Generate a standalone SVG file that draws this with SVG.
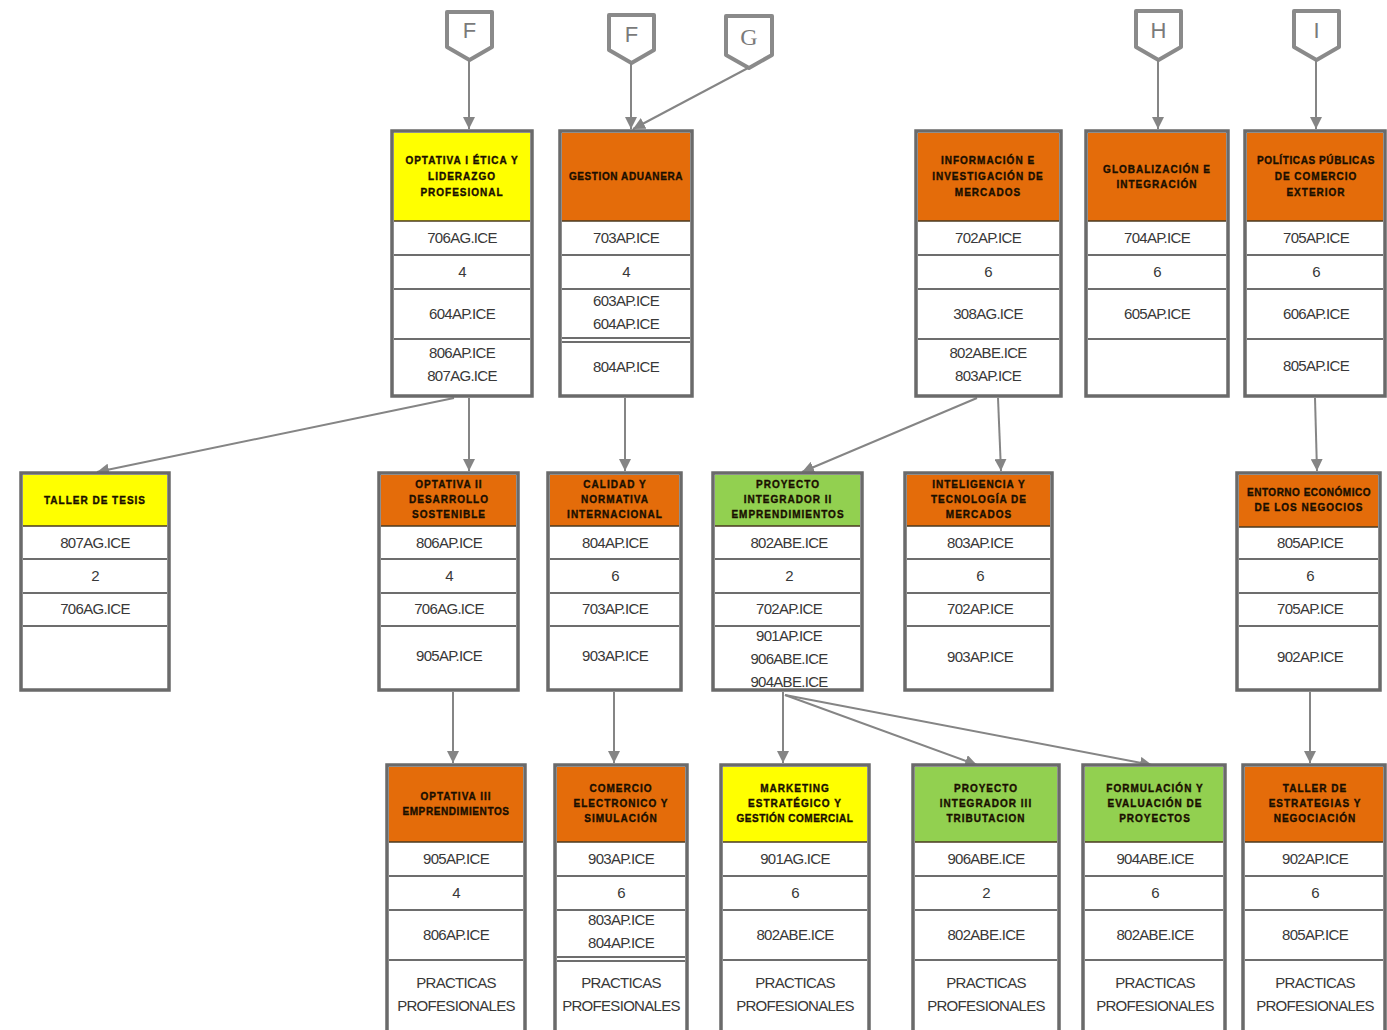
<svg xmlns="http://www.w3.org/2000/svg" width="1387" height="1030" viewBox="0 0 1387 1030">
<style>
.bg{fill:#ffffff}
.box{fill:#ffffff;stroke:#6a6a6a;stroke-width:3.5}
.row{stroke:#3c3c3c;stroke-width:1.5}
.hy{fill:#ffff00}
.ho{fill:#e46c0a}
.hg{fill:#92d050}
.hl{stroke:#4a3a20;stroke-width:1.5}
.ht{font-family:"Liberation Sans",Arial,sans-serif;font-weight:bold;font-size:10px;letter-spacing:1px;fill:#1a0f00;stroke:#1a0f00;stroke-width:0.35;text-anchor:middle}
.t{font-family:"Liberation Sans",Arial,sans-serif;font-size:15px;letter-spacing:-0.7px;fill:#383838;text-anchor:middle}
.off{fill:#ffffff;stroke:#8a8a8a;stroke-width:4;stroke-linejoin:round}
.offt{font-family:"Liberation Sans",Arial,sans-serif;font-size:22px;fill:#7a7a7a;text-anchor:middle}
.offs{font-family:"Liberation Serif","Times New Roman",serif;font-size:24px;fill:#7a7a7a;text-anchor:middle}
.c{fill:none;stroke:#858585;stroke-width:2;marker-end:url(#ah)}
</style>
<defs>
<marker id="ah" viewBox="0 0 10 10" refX="10" refY="5" markerWidth="12" markerHeight="12" markerUnits="userSpaceOnUse" orient="auto">
<path d="M0,0 L10,5 L0,10 Z" fill="#858585"/>
</marker>
</defs>
<rect class="bg" x="0" y="0" width="1387" height="1030"/>

<!-- off-page connectors -->
<g id="off-F1"><path class="off" d="M447,12 H492 V47 L469.5,60 L447,47 Z"/><text class="offt" x="469.5" y="38">F</text></g>
<g id="off-F2"><path class="off" d="M609,15 H654 V50 L631.5,63 L609,50 Z"/><text class="offt" x="631.5" y="42">F</text></g>
<g id="off-G"><path class="off" d="M726,16 H772 V55 L749,68 L726,55 Z"/><text class="offs" x="749" y="45">G</text></g>
<g id="off-H"><path class="off" d="M1136,11 H1181 V47 L1158.5,60 L1136,47 Z"/><text class="offt" x="1158.5" y="38">H</text></g>
<g id="off-I"><path class="off" d="M1294,11 H1339 V47 L1316.5,60 L1294,47 Z"/><text class="offt" x="1316.5" y="38">I</text></g>

<!-- connectors -->
<g id="connectors">
<line class="c" x1="469" y1="60" x2="469" y2="129"/>
<line class="c" x1="631" y1="63" x2="631" y2="129"/>
<line class="c" x1="748" y1="68" x2="633" y2="129"/>
<line class="c" x1="1158" y1="60" x2="1158" y2="129"/>
<line class="c" x1="1316" y1="60" x2="1316" y2="129"/>
<line class="c" x1="454" y1="398" x2="97" y2="472"/>
<line class="c" x1="469" y1="398" x2="469" y2="471"/>
<line class="c" x1="625" y1="398" x2="625" y2="471"/>
<line class="c" x1="977" y1="398" x2="802" y2="472"/>
<line class="c" x1="998" y1="398" x2="1001" y2="471"/>
<line class="c" x1="1315" y1="398" x2="1317" y2="471"/>
<line class="c" x1="453" y1="692" x2="453" y2="763"/>
<line class="c" x1="614" y1="692" x2="614" y2="763"/>
<line class="c" x1="783" y1="692" x2="783" y2="763"/>
<line class="c" x1="785" y1="695" x2="977" y2="765"/>
<line class="c" x1="785" y1="695" x2="1152" y2="765"/>
<line class="c" x1="1310" y1="692" x2="1310" y2="763"/>
</g>

<!-- ROW 1 -->
<g id="optativa-i">
<rect class="box" x="392" y="131" width="140" height="265"/>
<rect class="hy" x="394" y="133" width="136" height="88"/>
<line class="hl" x1="394" y1="221" x2="530" y2="221"/>
<line class="row" x1="394" y1="255" x2="530" y2="255"/>
<line class="row" x1="394" y1="289" x2="530" y2="289"/>
<line class="row" x1="394" y1="339" x2="530" y2="339"/>
<text class="ht" x="462" y="164">OPTATIVA I ÉTICA Y</text>
<text class="ht" x="462" y="180">LIDERAZGO</text>
<text class="ht" x="462" y="196">PROFESIONAL</text>
<text class="t" x="462" y="243">706AG.ICE</text>
<text class="t" x="462" y="277">4</text>
<text class="t" x="462" y="319">604AP.ICE</text>
<text class="t" x="462" y="358">806AP.ICE</text>
<text class="t" x="462" y="381">807AG.ICE</text>
</g>

<g id="gestion-aduanera">
<rect class="box" x="560" y="131" width="132" height="265"/>
<rect class="ho" x="562" y="133" width="128" height="88"/>
<line class="hl" x1="562" y1="221" x2="690" y2="221"/>
<line class="row" x1="562" y1="255" x2="690" y2="255"/>
<line class="row" x1="562" y1="289" x2="690" y2="289"/>
<line class="row" x1="562" y1="338" x2="690" y2="338"/>
<line class="row" x1="562" y1="342" x2="690" y2="342"/>
<text class="ht" x="626" y="180" style="letter-spacing:0.6px">GESTION ADUANERA</text>
<text class="t" x="626" y="243">703AP.ICE</text>
<text class="t" x="626" y="277">4</text>
<text class="t" x="626" y="306">603AP.ICE</text>
<text class="t" x="626" y="329">604AP.ICE</text>
<text class="t" x="626" y="372">804AP.ICE</text>
</g>

<g id="informacion-investigacion">
<rect class="box" x="916" y="131" width="145" height="265"/>
<rect class="ho" x="918" y="133" width="141" height="88"/>
<line class="hl" x1="918" y1="221" x2="1059" y2="221"/>
<line class="row" x1="918" y1="255" x2="1059" y2="255"/>
<line class="row" x1="918" y1="289" x2="1059" y2="289"/>
<line class="row" x1="918" y1="339" x2="1059" y2="339"/>
<text class="ht" x="988" y="164">INFORMACIÓN E</text>
<text class="ht" x="988" y="180">INVESTIGACIÓN DE</text>
<text class="ht" x="988" y="196">MERCADOS</text>
<text class="t" x="988" y="243">702AP.ICE</text>
<text class="t" x="988" y="277">6</text>
<text class="t" x="988" y="319">308AG.ICE</text>
<text class="t" x="988" y="358">802ABE.ICE</text>
<text class="t" x="988" y="381">803AP.ICE</text>
</g>

<g id="globalizacion">
<rect class="box" x="1086" y="131" width="142" height="265"/>
<rect class="ho" x="1088" y="133" width="138" height="88"/>
<line class="hl" x1="1088" y1="221" x2="1226" y2="221"/>
<line class="row" x1="1088" y1="255" x2="1226" y2="255"/>
<line class="row" x1="1088" y1="289" x2="1226" y2="289"/>
<line class="row" x1="1088" y1="339" x2="1226" y2="339"/>
<text class="ht" x="1157" y="173">GLOBALIZACIÓN E</text>
<text class="ht" x="1157" y="188">INTEGRACIÓN</text>
<text class="t" x="1157" y="243">704AP.ICE</text>
<text class="t" x="1157" y="277">6</text>
<text class="t" x="1157" y="319">605AP.ICE</text>
</g>

<g id="politicas-publicas">
<rect class="box" x="1245" y="131" width="140" height="265"/>
<rect class="ho" x="1247" y="133" width="136" height="88"/>
<line class="hl" x1="1247" y1="221" x2="1383" y2="221"/>
<line class="row" x1="1247" y1="255" x2="1383" y2="255"/>
<line class="row" x1="1247" y1="289" x2="1383" y2="289"/>
<line class="row" x1="1247" y1="339" x2="1383" y2="339"/>
<text class="ht" x="1316" y="164" style="letter-spacing:0.6px">POLÍTICAS PÚBLICAS</text>
<text class="ht" x="1316" y="180">DE COMERCIO</text>
<text class="ht" x="1316" y="196">EXTERIOR</text>
<text class="t" x="1316" y="243">705AP.ICE</text>
<text class="t" x="1316" y="277">6</text>
<text class="t" x="1316" y="319">606AP.ICE</text>
<text class="t" x="1316" y="371">805AP.ICE</text>
</g>

<!-- ROW 2 -->
<g id="taller-tesis">
<rect class="box" x="21" y="473" width="148" height="217"/>
<rect class="hy" x="23" y="475" width="144" height="51"/>
<line class="hl" x1="23" y1="526" x2="167" y2="526"/>
<line class="row" x1="23" y1="559" x2="167" y2="559"/>
<line class="row" x1="23" y1="593" x2="167" y2="593"/>
<line class="row" x1="23" y1="626" x2="167" y2="626"/>
<text class="ht" x="95" y="504">TALLER DE TESIS</text>
<text class="t" x="95" y="548">807AG.ICE</text>
<text class="t" x="95" y="581">2</text>
<text class="t" x="95" y="614">706AG.ICE</text>
</g>

<g id="optativa-ii">
<rect class="box" x="379" y="473" width="139" height="217"/>
<rect class="ho" x="381" y="475" width="135" height="51"/>
<line class="hl" x1="381" y1="526" x2="516" y2="526"/>
<line class="row" x1="381" y1="559" x2="516" y2="559"/>
<line class="row" x1="381" y1="593" x2="516" y2="593"/>
<line class="row" x1="381" y1="626" x2="516" y2="626"/>
<text class="ht" x="449" y="488">OPTATIVA II</text>
<text class="ht" x="449" y="503">DESARROLLO</text>
<text class="ht" x="449" y="518">SOSTENIBLE</text>
<text class="t" x="449" y="548">806AP.ICE</text>
<text class="t" x="449" y="581">4</text>
<text class="t" x="449" y="614">706AG.ICE</text>
<text class="t" x="449" y="661">905AP.ICE</text>
</g>

<g id="calidad-normativa">
<rect class="box" x="548" y="473" width="133" height="217"/>
<rect class="ho" x="550" y="475" width="129" height="51"/>
<line class="hl" x1="550" y1="526" x2="679" y2="526"/>
<line class="row" x1="550" y1="559" x2="679" y2="559"/>
<line class="row" x1="550" y1="593" x2="679" y2="593"/>
<line class="row" x1="550" y1="626" x2="679" y2="626"/>
<text class="ht" x="615" y="488">CALIDAD Y</text>
<text class="ht" x="615" y="503">NORMATIVA</text>
<text class="ht" x="615" y="518">INTERNACIONAL</text>
<text class="t" x="615" y="548">804AP.ICE</text>
<text class="t" x="615" y="581">6</text>
<text class="t" x="615" y="614">703AP.ICE</text>
<text class="t" x="615" y="661">903AP.ICE</text>
</g>

<g id="proyecto-integrador-ii">
<rect class="box" x="713" y="473" width="149" height="217"/>
<rect class="hg" x="715" y="475" width="145" height="51"/>
<line class="hl" x1="715" y1="526" x2="860" y2="526"/>
<line class="row" x1="715" y1="559" x2="860" y2="559"/>
<line class="row" x1="715" y1="593" x2="860" y2="593"/>
<line class="row" x1="715" y1="626" x2="860" y2="626"/>
<text class="ht" x="788" y="488">PROYECTO</text>
<text class="ht" x="788" y="503">INTEGRADOR II</text>
<text class="ht" x="788" y="518">EMPRENDIMIENTOS</text>
<text class="t" x="789" y="548">802ABE.ICE</text>
<text class="t" x="789" y="581">2</text>
<text class="t" x="789" y="614">702AP.ICE</text>
<text class="t" x="789" y="641">901AP.ICE</text>
<text class="t" x="789" y="664">906ABE.ICE</text>
<text class="t" x="789" y="687">904ABE.ICE</text>
</g>

<g id="inteligencia-tecnologia">
<rect class="box" x="905" y="473" width="147" height="217"/>
<rect class="ho" x="907" y="475" width="143" height="51"/>
<line class="hl" x1="907" y1="526" x2="1050" y2="526"/>
<line class="row" x1="907" y1="559" x2="1050" y2="559"/>
<line class="row" x1="907" y1="593" x2="1050" y2="593"/>
<line class="row" x1="907" y1="626" x2="1050" y2="626"/>
<text class="ht" x="979" y="488">INTELIGENCIA Y</text>
<text class="ht" x="979" y="503">TECNOLOGÍA DE</text>
<text class="ht" x="979" y="518">MERCADOS</text>
<text class="t" x="980" y="548">803AP.ICE</text>
<text class="t" x="980" y="581">6</text>
<text class="t" x="980" y="614">702AP.ICE</text>
<text class="t" x="980" y="662">903AP.ICE</text>
</g>

<g id="entorno-economico">
<rect class="box" x="1237" y="473" width="143" height="217"/>
<rect class="ho" x="1239" y="475" width="139" height="52"/>
<line class="hl" x1="1239" y1="527" x2="1378" y2="527"/>
<line class="row" x1="1239" y1="559" x2="1378" y2="559"/>
<line class="row" x1="1239" y1="593" x2="1378" y2="593"/>
<line class="row" x1="1239" y1="626" x2="1378" y2="626"/>
<text class="ht" x="1309" y="496" style="letter-spacing:0.5px">ENTORNO ECONÓMICO</text>
<text class="ht" x="1309" y="511">DE LOS NEGOCIOS</text>
<text class="t" x="1310" y="548">805AP.ICE</text>
<text class="t" x="1310" y="581">6</text>
<text class="t" x="1310" y="614">705AP.ICE</text>
<text class="t" x="1310" y="662">902AP.ICE</text>
</g>

<!-- ROW 3 -->
<g id="optativa-iii">
<rect class="box" x="387" y="765" width="138" height="275"/>
<rect class="ho" x="389" y="767" width="134" height="75"/>
<line class="hl" x1="389" y1="842" x2="523" y2="842"/>
<line class="row" x1="389" y1="876" x2="523" y2="876"/>
<line class="row" x1="389" y1="910" x2="523" y2="910"/>
<line class="row" x1="389" y1="960" x2="523" y2="960"/>
<text class="ht" x="456" y="800">OPTATIVA III</text>
<text class="ht" x="456" y="815" style="letter-spacing:0.6px">EMPRENDIMIENTOS</text>
<text class="t" x="456" y="864">905AP.ICE</text>
<text class="t" x="456" y="898">4</text>
<text class="t" x="456" y="940">806AP.ICE</text>
<text class="t" x="456" y="988">PRACTICAS</text>
<text class="t" x="456" y="1011">PROFESIONALES</text>
</g>

<g id="comercio-electronico">
<rect class="box" x="555" y="765" width="132" height="275"/>
<rect class="ho" x="557" y="767" width="128" height="75"/>
<line class="hl" x1="557" y1="842" x2="685" y2="842"/>
<line class="row" x1="557" y1="876" x2="685" y2="876"/>
<line class="row" x1="557" y1="910" x2="685" y2="910"/>
<line class="row" x1="557" y1="957" x2="685" y2="957"/>
<line class="row" x1="557" y1="961" x2="685" y2="961"/>
<text class="ht" x="621" y="792">COMERCIO</text>
<text class="ht" x="621" y="807">ELECTRONICO Y</text>
<text class="ht" x="621" y="822">SIMULACIÓN</text>
<text class="t" x="621" y="864">903AP.ICE</text>
<text class="t" x="621" y="898">6</text>
<text class="t" x="621" y="925">803AP.ICE</text>
<text class="t" x="621" y="948">804AP.ICE</text>
<text class="t" x="621" y="988">PRACTICAS</text>
<text class="t" x="621" y="1011">PROFESIONALES</text>
</g>

<g id="marketing-estrategico">
<rect class="box" x="721" y="765" width="148" height="275"/>
<rect class="hy" x="723" y="767" width="144" height="75"/>
<line class="hl" x1="723" y1="842" x2="867" y2="842"/>
<line class="row" x1="723" y1="876" x2="867" y2="876"/>
<line class="row" x1="723" y1="910" x2="867" y2="910"/>
<line class="row" x1="723" y1="960" x2="867" y2="960"/>
<text class="ht" x="795" y="792">MARKETING</text>
<text class="ht" x="795" y="807">ESTRATÉGICO Y</text>
<text class="ht" x="795" y="822" style="letter-spacing:0.5px">GESTIÓN COMERCIAL</text>
<text class="t" x="795" y="864">901AG.ICE</text>
<text class="t" x="795" y="898">6</text>
<text class="t" x="795" y="940">802ABE.ICE</text>
<text class="t" x="795" y="988">PRACTICAS</text>
<text class="t" x="795" y="1011">PROFESIONALES</text>
</g>

<g id="proyecto-integrador-iii">
<rect class="box" x="913" y="765" width="146" height="275"/>
<rect class="hg" x="915" y="767" width="142" height="75"/>
<line class="hl" x1="915" y1="842" x2="1057" y2="842"/>
<line class="row" x1="915" y1="876" x2="1057" y2="876"/>
<line class="row" x1="915" y1="910" x2="1057" y2="910"/>
<line class="row" x1="915" y1="960" x2="1057" y2="960"/>
<text class="ht" x="986" y="792">PROYECTO</text>
<text class="ht" x="986" y="807">INTEGRADOR III</text>
<text class="ht" x="986" y="822">TRIBUTACION</text>
<text class="t" x="986" y="864">906ABE.ICE</text>
<text class="t" x="986" y="898">2</text>
<text class="t" x="986" y="940">802ABE.ICE</text>
<text class="t" x="986" y="988">PRACTICAS</text>
<text class="t" x="986" y="1011">PROFESIONALES</text>
</g>

<g id="formulacion-evaluacion">
<rect class="box" x="1083" y="765" width="142" height="275"/>
<rect class="hg" x="1085" y="767" width="138" height="75"/>
<line class="hl" x1="1085" y1="842" x2="1223" y2="842"/>
<line class="row" x1="1085" y1="876" x2="1223" y2="876"/>
<line class="row" x1="1085" y1="910" x2="1223" y2="910"/>
<line class="row" x1="1085" y1="960" x2="1223" y2="960"/>
<text class="ht" x="1155" y="792">FORMULACIÓN Y</text>
<text class="ht" x="1155" y="807">EVALUACIÓN DE</text>
<text class="ht" x="1155" y="822">PROYECTOS</text>
<text class="t" x="1155" y="864">904ABE.ICE</text>
<text class="t" x="1155" y="898">6</text>
<text class="t" x="1155" y="940">802ABE.ICE</text>
<text class="t" x="1155" y="988">PRACTICAS</text>
<text class="t" x="1155" y="1011">PROFESIONALES</text>
</g>

<g id="taller-estrategias">
<rect class="box" x="1243" y="765" width="142" height="275"/>
<rect class="ho" x="1245" y="767" width="138" height="75"/>
<line class="hl" x1="1245" y1="842" x2="1383" y2="842"/>
<line class="row" x1="1245" y1="876" x2="1383" y2="876"/>
<line class="row" x1="1245" y1="910" x2="1383" y2="910"/>
<line class="row" x1="1245" y1="960" x2="1383" y2="960"/>
<text class="ht" x="1315" y="792">TALLER DE</text>
<text class="ht" x="1315" y="807">ESTRATEGIAS Y</text>
<text class="ht" x="1315" y="822">NEGOCIACIÓN</text>
<text class="t" x="1315" y="864">902AP.ICE</text>
<text class="t" x="1315" y="898">6</text>
<text class="t" x="1315" y="940">805AP.ICE</text>
<text class="t" x="1315" y="988">PRACTICAS</text>
<text class="t" x="1315" y="1011">PROFESIONALES</text>
</g>
</svg>
